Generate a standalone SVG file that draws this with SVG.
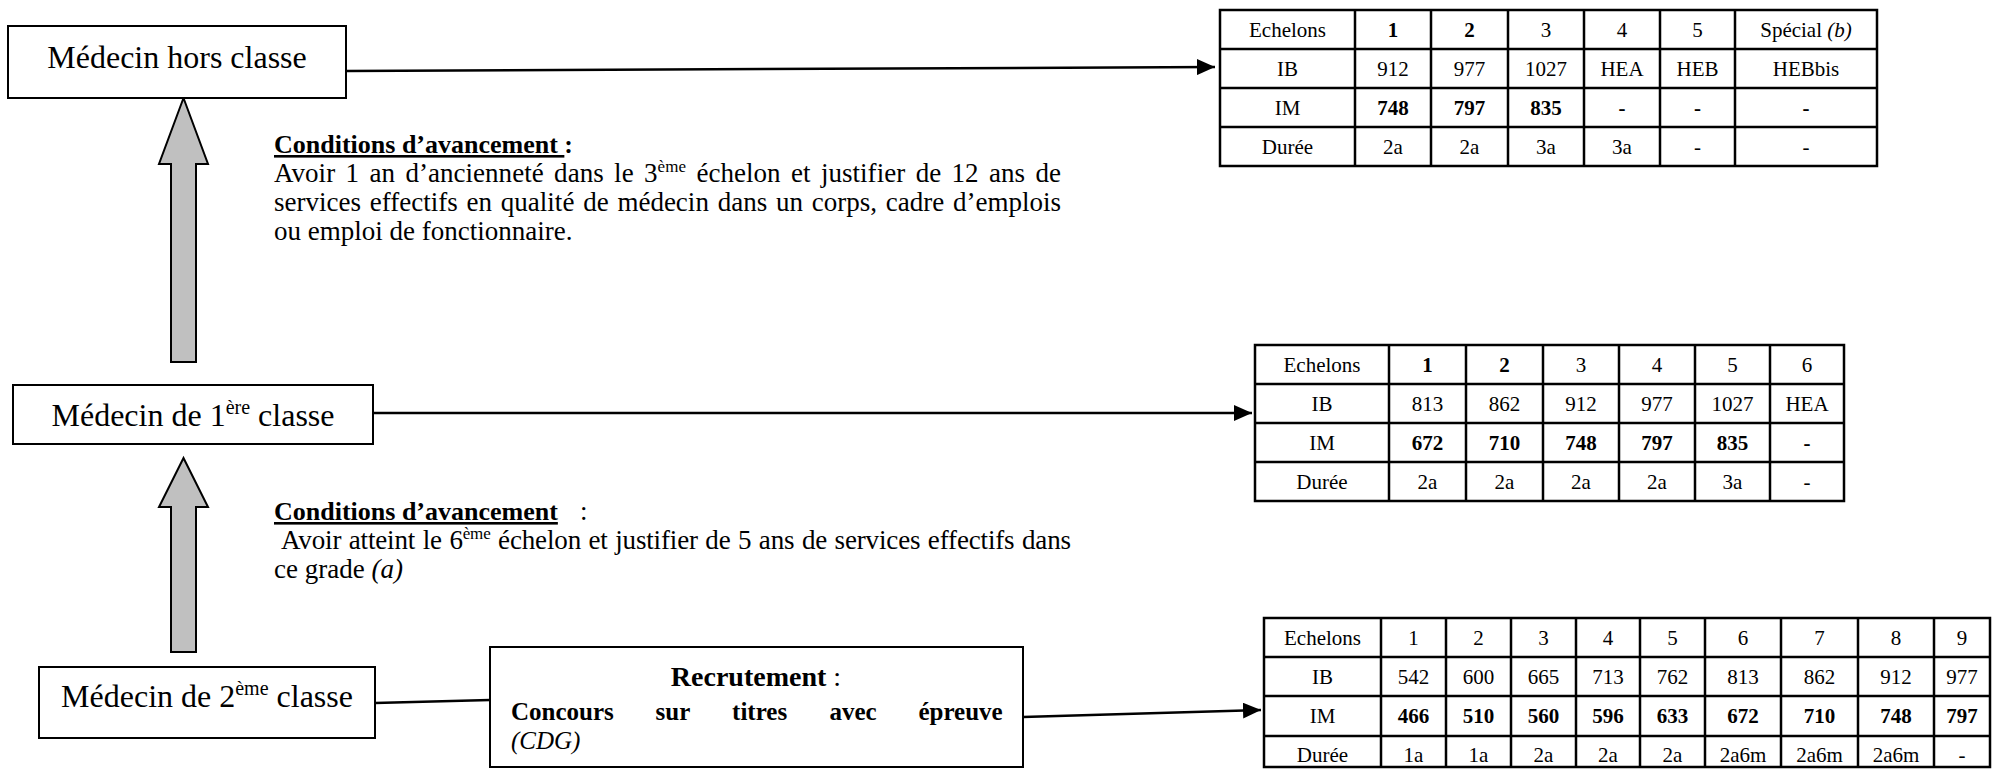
<svg xmlns="http://www.w3.org/2000/svg" width="1992" height="769" viewBox="0 0 1992 769">
<defs>
<style>
text{font-family:"Liberation Serif","Times New Roman",serif;fill:#000}
.box{fill:#fff;stroke:#000;stroke-width:2}
.up{fill:#c0c0c0;stroke:#000;stroke-width:2;stroke-linejoin:miter}
.grid{fill:none;stroke:#000;stroke-width:2.5}
.conn{fill:none;stroke:#000;stroke-width:2.5}
.node{font-size:32px;text-anchor:middle}
.tc{font-size:21px;text-anchor:middle}
.h{font-size:26px}
.p{font-size:27px}
.b{font-weight:bold}
.i{font-style:italic}
.u{text-decoration:underline}
</style>
<marker id="ah" viewBox="0 0 18 16" refX="18" refY="8" markerWidth="18" markerHeight="16" markerUnits="userSpaceOnUse" orient="auto">
<path d="M0,0 L18,8 L0,16 z" fill="#000"/>
</marker>
</defs>
<rect width="1992" height="769" fill="#fff"/>

<g id="connectors">
<path class="conn" d="M346,71 L1215,67" marker-end="url(#ah)"/>
<path class="conn" d="M373,413 L1252,413" marker-end="url(#ah)"/>
<path class="conn" d="M375,703 L490,700"/>
<path class="conn" d="M1023,717 L1261,710" marker-end="url(#ah)"/>
<polygon class="up" points="183.5,98 208,164 196,164 196,362 171,362 171,164 159,164"/>
<polygon class="up" points="183.5,458 208,507 196,507 196,652 171,652 171,507 159,507"/>
</g>

<g id="node-hors-classe">
<rect class="box" x="8" y="26" width="338" height="72"/>
<text class="node" x="177" y="68">Médecin hors classe</text>
</g>

<g id="node-1ere-classe">
<rect class="box" x="13" y="385" width="360" height="59"/>
<text class="node" x="193" y="426">Médecin de 1<tspan font-size="20" dy="-12">ère</tspan><tspan dy="12"> classe</tspan></text>
</g>

<g id="node-2eme-classe">
<rect class="box" x="39" y="667" width="336" height="71"/>
<text class="node" x="207" y="707">Médecin de 2<tspan font-size="20" dy="-12">ème</tspan><tspan dy="12"> classe</tspan></text>
</g>

<g id="node-recrutement">
<rect class="box" x="490" y="647" width="533" height="120"/>
<text x="756" y="686" text-anchor="middle" font-size="28"><tspan class="b">Recrutement</tspan> :</text>
<text class="b" font-size="25" y="720"><tspan x="511">Concours</tspan><tspan x="655.6">sur</tspan><tspan x="732.1">titres</tspan><tspan x="829.4">avec</tspan><tspan x="918.4">épreuve</tspan></text>
<text class="i" font-size="25" x="511" y="749">(CDG)</text>
</g>

<g id="conditions-1">
<text class="h b" x="274" y="153"><tspan class="u">Conditions d’avancement </tspan>:</text>
<text class="p" x="274" y="182" word-spacing="3.6" textLength="787" lengthAdjust="spacing">Avoir 1 an d’ancienneté dans le 3<tspan font-size="17" dy="-10">ème</tspan><tspan dy="10"> échelon et justifier de 12 ans de</tspan></text>
<text class="p" x="274" y="211" word-spacing="2" textLength="787" lengthAdjust="spacing">services effectifs en qualité de médecin dans un corps, cadre d’emplois</text>
<text class="p" x="274" y="240">ou emploi de fonctionnaire.</text>
</g>

<g id="conditions-2">
<text class="h b u" x="274" y="520">Conditions d’avancement</text>
<text class="p" x="580" y="520">:</text>
<text class="p" x="281" y="549" word-spacing="0.9" textLength="790" lengthAdjust="spacing">Avoir atteint le 6<tspan font-size="17" dy="-10">ème</tspan><tspan dy="10"> échelon et justifier de 5 ans de services effectifs dans</tspan></text>
<text class="p" x="274" y="578">ce grade <tspan class="i">(a)</tspan></text>
</g>

<g id="table-hors-classe">
<path class="grid" d="M1220,10 H1877 V166 H1220 Z M1220,49 H1877 M1220,88 H1877 M1220,127 H1877 M1355,10 V166 M1431,10 V166 M1508,10 V166 M1584,10 V166 M1660,10 V166 M1735,10 V166"/>
<g class="tc">
<text x="1287.5" y="37">Echelons</text><text class="b" x="1393" y="37">1</text><text class="b" x="1469.5" y="37">2</text><text x="1546" y="37">3</text><text x="1622" y="37">4</text><text x="1697.5" y="37">5</text><text x="1806" y="37">Spécial <tspan class="i">(b)</tspan></text>
<text x="1287.5" y="76">IB</text><text x="1393" y="76">912</text><text x="1469.5" y="76">977</text><text x="1546" y="76">1027</text><text x="1622" y="76">HEA</text><text x="1697.5" y="76">HEB</text><text x="1806" y="76">HEBbis</text>
<text x="1287.5" y="115">IM</text><text class="b" x="1393" y="115">748</text><text class="b" x="1469.5" y="115">797</text><text class="b" x="1546" y="115">835</text><text class="b" x="1622" y="115">-</text><text class="b" x="1697.5" y="115">-</text><text class="b" x="1806" y="115">-</text>
<text x="1287.5" y="154">Durée</text><text x="1393" y="154">2a</text><text x="1469.5" y="154">2a</text><text x="1546" y="154">3a</text><text x="1622" y="154">3a</text><text x="1697.5" y="154">-</text><text x="1806" y="154">-</text>
</g>
</g>

<g id="table-1ere-classe">
<path class="grid" d="M1255,345 H1844 V501 H1255 Z M1255,384 H1844 M1255,423 H1844 M1255,462 H1844 M1389,345 V501 M1466,345 V501 M1543,345 V501 M1619,345 V501 M1695,345 V501 M1770,345 V501"/>
<g class="tc">
<text x="1322" y="372">Echelons</text><text class="b" x="1427.5" y="372">1</text><text class="b" x="1504.5" y="372">2</text><text x="1581" y="372">3</text><text x="1657" y="372">4</text><text x="1732.5" y="372">5</text><text x="1807" y="372">6</text>
<text x="1322" y="411">IB</text><text x="1427.5" y="411">813</text><text x="1504.5" y="411">862</text><text x="1581" y="411">912</text><text x="1657" y="411">977</text><text x="1732.5" y="411">1027</text><text x="1807" y="411">HEA</text>
<text x="1322" y="450">IM</text><text class="b" x="1427.5" y="450">672</text><text class="b" x="1504.5" y="450">710</text><text class="b" x="1581" y="450">748</text><text class="b" x="1657" y="450">797</text><text class="b" x="1732.5" y="450">835</text><text class="b" x="1807" y="450">-</text>
<text x="1322" y="489">Durée</text><text x="1427.5" y="489">2a</text><text x="1504.5" y="489">2a</text><text x="1581" y="489">2a</text><text x="1657" y="489">2a</text><text x="1732.5" y="489">3a</text><text x="1807" y="489">-</text>
</g>
</g>

<g id="table-2eme-classe">
<path class="grid" d="M1264,618 H1990 V767 H1264 Z M1264,657 H1990 M1264,696 H1990 M1264,736 H1990 M1381,618 V767 M1446,618 V767 M1511,618 V767 M1576,618 V767 M1640,618 V767 M1705,618 V767 M1781,618 V767 M1858,618 V767 M1934,618 V767"/>
<g class="tc">
<text x="1322.5" y="645">Echelons</text><text x="1413.5" y="645">1</text><text x="1478.5" y="645">2</text><text x="1543.5" y="645">3</text><text x="1608" y="645">4</text><text x="1672.5" y="645">5</text><text x="1743" y="645">6</text><text x="1819.5" y="645">7</text><text x="1896" y="645">8</text><text x="1962" y="645">9</text>
<text x="1322.5" y="684">IB</text><text x="1413.5" y="684">542</text><text x="1478.5" y="684">600</text><text x="1543.5" y="684">665</text><text x="1608" y="684">713</text><text x="1672.5" y="684">762</text><text x="1743" y="684">813</text><text x="1819.5" y="684">862</text><text x="1896" y="684">912</text><text x="1962" y="684">977</text>
<text x="1322.5" y="723">IM</text><text class="b" x="1413.5" y="723">466</text><text class="b" x="1478.5" y="723">510</text><text class="b" x="1543.5" y="723">560</text><text class="b" x="1608" y="723">596</text><text class="b" x="1672.5" y="723">633</text><text class="b" x="1743" y="723">672</text><text class="b" x="1819.5" y="723">710</text><text class="b" x="1896" y="723">748</text><text class="b" x="1962" y="723">797</text>
<text x="1322.5" y="762">Durée</text><text x="1413.5" y="762">1a</text><text x="1478.5" y="762">1a</text><text x="1543.5" y="762">2a</text><text x="1608" y="762">2a</text><text x="1672.5" y="762">2a</text><text x="1743" y="762">2a6m</text><text x="1819.5" y="762">2a6m</text><text x="1896" y="762">2a6m</text><text x="1962" y="762">-</text>
</g>
</g>
</svg>
